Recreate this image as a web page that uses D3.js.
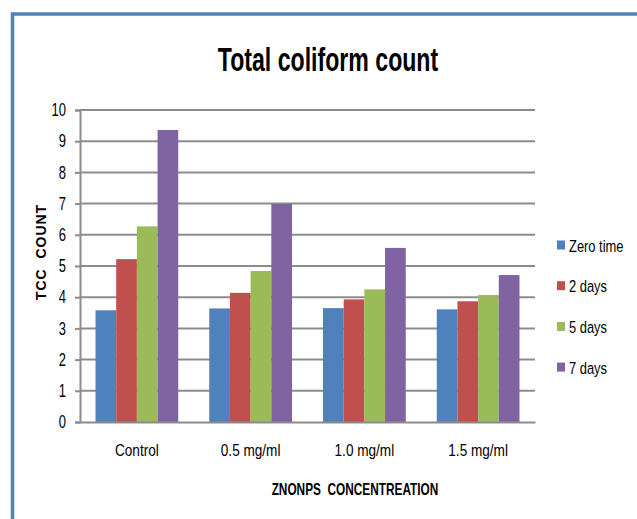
<!DOCTYPE html>
<html>
<head>
<meta charset="utf-8">
<script src="https://cdn.jsdelivr.net/npm/d3@7"></script>
<style>
  html, body { margin: 0; padding: 0; background: #fff; }
  svg { display: block; }
  text { font-family: "Liberation Sans", Arial, sans-serif; fill: #000; white-space: pre; }
</style>
</head>
<body>
<svg id="chart" width="637" height="519"></svg>
<script>
// Concentrations on the x axis and sampling times as series
const categories = ["Control", "0.5 mg/ml", "1.0 mg/ml", "1.5 mg/ml"];
const seriesNames = ["Zero time", "2 days", "5 days", "7 days"];
const zeroTime = [3.58, 3.64, 3.65, 3.61];
const days2 = [5.22, 4.14, 3.93, 3.87];
const days5 = [6.27, 4.84, 4.25, 4.07];
const days7 = [9.36, 6.99, 5.58, 4.71];
const yTicks = [0, 1, 2, 3, 4, 5, 6, 7, 8, 9, 10];
const colors = ["#4f81bd", "#c0504d", "#9bbb59", "#8064a2"];

const seriesValues = [zeroTime, days2, days5, days7];

// squeeze text horizontally about its anchor x for a narrow, Calibri-like face
function condense(sel, f) {
  sel.each(function () {
    const x = +(this.getAttribute("x") || 0);
    d3.select(this).attr("transform", `translate(${x * (1 - f)},0) scale(${f},1)`);
  });
}

const svg = d3.select("#chart");

// chart frame (only top and left edges fall inside the canvas)
svg.append("path")
  .attr("d", "M12.5,640 L12.5,14 L640,14")
  .attr("fill", "none")
  .attr("stroke", "#4f81bd")
  .attr("stroke-width", 3.5);

const plot = { left: 80, right: 535, top: 110, bottom: 422 };

const x0 = d3.scaleBand()
  .domain(categories)
  .range([plot.left, plot.right])
  .padding(0);

// Excel-style gap: 150% of a bar width, split across both sides of the group
const barW = x0.bandwidth() / (seriesNames.length + 1.5);
const x1 = d3.scaleBand()
  .domain(seriesNames)
  .range([barW * 0.75, barW * 0.75 + barW * seriesNames.length])
  .padding(0);

const y = d3.scaleLinear().domain([0, 10]).range([plot.bottom, plot.top]);

// gridlines
svg.append("g")
  .selectAll("line")
  .data(yTicks.filter(d => d > 0))
  .join("line")
  .attr("x1", plot.left)
  .attr("x2", plot.right)
  .attr("y1", d => y(d))
  .attr("y2", d => y(d))
  .attr("stroke", "#8c8c8c")
  .attr("stroke-width", 2);

// bars
const groups = svg.append("g")
  .selectAll("g")
  .data(categories)
  .join("g")
  .attr("transform", d => `translate(${x0(d)},0)`);

groups.selectAll("rect")
  .data((c, ci) => seriesNames.map((s, si) => ({ s, si, v: seriesValues[si][ci] })))
  .join("rect")
  .attr("x", d => x1(d.s))
  .attr("width", x1.bandwidth())
  .attr("y", d => y(d.v))
  .attr("height", d => y(0) - y(d.v))
  .attr("fill", d => colors[d.si]);

// y axis
const yAxis = svg.append("g")
  .attr("transform", `translate(${plot.left},0)`)
  .call(d3.axisLeft(y).tickValues(yTicks).tickSize(5).tickPadding(9).tickFormat(d3.format("d")));
yAxis.select(".domain").attr("stroke", "#8c8c8c").attr("stroke-width", 2);
yAxis.selectAll(".tick line").attr("stroke", "#8c8c8c").attr("stroke-width", 2);
yAxis.selectAll(".tick text")
  .attr("font-size", 18)
  .attr("font-family", "Liberation Sans, Arial, sans-serif")
  .attr("fill", "#000")
  .call(condense, 0.72);

// x axis
const xAxis = svg.append("g")
  .attr("transform", `translate(0,${plot.bottom})`)
  .call(d3.axisBottom(x0).tickSize(0).tickPadding(22));
xAxis.select(".domain").attr("stroke", "#8c8c8c").attr("stroke-width", 2);
xAxis.selectAll(".tick text")
  .attr("font-size", 17)
  .attr("font-family", "Liberation Sans, Arial, sans-serif")
  .attr("fill", "#000")
  .call(condense, 0.8);

// title
svg.append("text")
  .attr("x", 328)
  .attr("y", 71)
  .attr("text-anchor", "middle")
  .attr("font-size", 34)
  .attr("font-weight", "bold")
  .text("Total coliform count")
  .call(condense, 0.68);

// axis titles
svg.append("text")
  .attr("transform", "translate(46,252) rotate(-90)")
  .attr("text-anchor", "middle")
  .attr("font-size", 14)
  .attr("font-weight", "bold")
  .attr("letter-spacing", 1)
  .text("TCC  COUNT");

svg.append("text")
  .attr("x", 355)
  .attr("y", 495)
  .attr("text-anchor", "middle")
  .attr("font-size", 16)
  .attr("font-weight", "bold")
  .text("ZNONPS  CONCENTREATION")
  .call(condense, 0.74);

// legend
const legend = svg.append("g")
  .selectAll("g")
  .data(seriesNames)
  .join("g")
  .attr("transform", (d, i) => `translate(557,${245 + i * 40.7})`);
legend.append("rect")
  .attr("x", 0).attr("y", -4.5)
  .attr("width", 8).attr("height", 9)
  .attr("fill", (d, i) => colors[i]);
legend.append("text")
  .attr("x", 12)
  .attr("y", 6.5)
  .attr("font-size", 17)
  .text(d => d)
  .call(condense, 0.76);
</script>
</body>
</html>
